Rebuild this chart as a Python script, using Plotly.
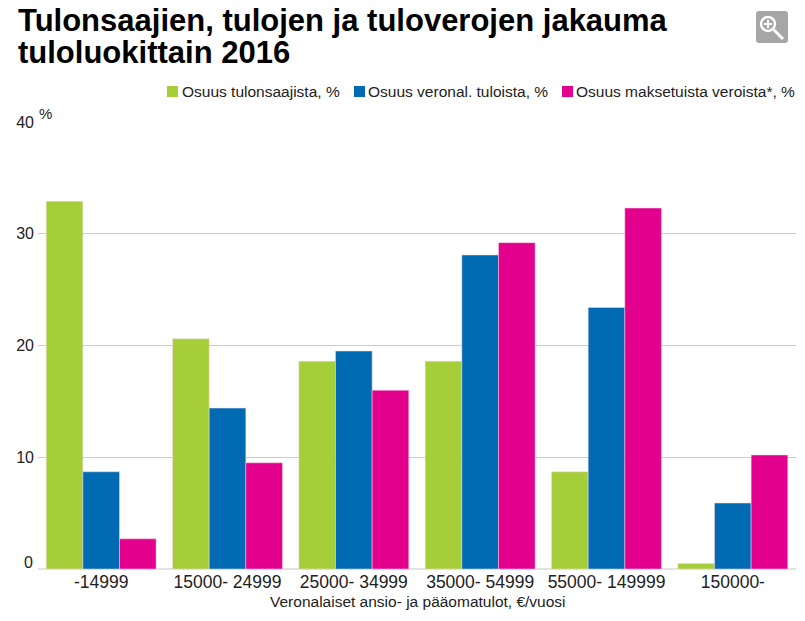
import plotly.graph_objects as go

categories = ["-14999", "15000- 24999", "25000- 34999", "35000- 54999", "55000- 149999", "150000-"]
tulonsaajat = [32.9, 20.6, 18.6, 18.6, 8.7, 0.5]
tulot = [8.7, 14.4, 19.5, 28.1, 23.4, 5.9]
verot = [2.7, 9.5, 16.0, 29.2, 32.3, 10.2]
series_names = ["Osuus tulonsaajista, %", "Osuus veronal. tuloista, %", "Osuus maksetuista veroista*, %"]
colors = ["#A6CE39", "#006AB3", "#E3008C"]
title_lines = ["Tulonsaajien, tulojen ja tuloverojen jakauma", "tuloluokittain 2016"]
x_title = "Veronalaiset ansio- ja pääomatulot, €/vuosi"
y_ticks = [10, 20, 30, 40]

W, H = 805, 621
L, R, T, B = 38, 9, 122, 52
FONT = "Liberation Sans"
TXT = "#222222"


def px(x):
    return (x - L) / (W - L - R)


def py(y):
    return 1 - (y - T) / (H - T - B)


fig = go.Figure()
for name, vals, c in zip(series_names, [tulonsaajat, tulot, verot], colors):
    fig.add_bar(x=categories, y=vals, name=name, marker=dict(color=c, line=dict(width=0.5, color="#f4d6e8")), showlegend=False)

P = dict(xref="paper", yref="paper")
A = dict(xref="paper", yref="paper", showarrow=False, yanchor="middle")
shapes = []
annotations = []
for i, line in enumerate(title_lines):
    annotations.append(dict(text=f"<b>{line}</b>", x=px(16), y=py(20 + i * 32), xanchor="left",
                            font=dict(size=31, color="#000", family=FONT), **A))

leg_sq = [167, 354, 562]
leg_txt = [180, 366, 574]
for sq, tx, name, c in zip(leg_sq, leg_txt, series_names, colors):
    shapes.append(dict(type="rect", x0=px(sq), x1=px(sq + 11), y0=py(97), y1=py(86), fillcolor=c, line_width=0, **P))
    annotations.append(dict(text=name, x=px(tx), y=py(91), xanchor="left", font=dict(size=15.5, color=TXT, family=FONT), **A))

annotations += [
    dict(text="%", x=px(37), y=py(114), xanchor="left", font=dict(size=15, color=TXT, family=FONT), **A),
    dict(text="0", x=px(35), y=py(562), xanchor="right", font=dict(size=16, color=TXT, family=FONT), **A),
    dict(text=x_title, x=px(418), y=py(601), xanchor="center", font=dict(size=15.5, color=TXT, family=FONT), **A),
]

# zoom icon
icon = (f"M{px(759)},{py(11)} L{px(785)},{py(11)} Q{px(788)},{py(11)} {px(788)},{py(14)} L{px(788)},{py(40)} "
        f"Q{px(788)},{py(43)} {px(785)},{py(43)} L{px(759)},{py(43)} Q{px(756)},{py(43)} {px(756)},{py(40)} "
        f"L{px(756)},{py(14)} Q{px(756)},{py(11)} {px(759)},{py(11)} Z")
white = "white"
shapes += [
    dict(type="path", path=icon, fillcolor="#A6A6A6", line_width=0, **P),
    dict(type="circle", x0=px(761), x1=px(775), y0=py(31), y1=py(17), fillcolor="#A6A6A6", line=dict(color=white, width=2.5), **P),
    dict(type="line", x0=px(774), x1=px(783), y0=py(30), y1=py(39), line=dict(color=white, width=3), **P),
    dict(type="line", x0=px(764), x1=px(772), y0=py(24), y1=py(24), line=dict(color=white, width=2), **P),
    dict(type="line", x0=px(768), x1=px(768), y0=py(20), y1=py(28), line=dict(color=white, width=2), **P),
    dict(type="line", x0=px(38), x1=px(796), y0=py(569), y1=py(569), line=dict(color="#E2E2E2", width=2), layer="below", **P),
]

fig.update_layout(
    width=W, height=H, autosize=False,
    margin=dict(l=L, r=R, t=T, b=B, pad=0, autoexpand=False),
    barmode="group", bargap=0.13, bargroupgap=0,
    paper_bgcolor="white", plot_bgcolor="white",
    font=dict(family=FONT, size=14, color=TXT),
    shapes=shapes, annotations=annotations,
    xaxis=dict(type="category", showgrid=False, showline=False, ticks="", automargin=False, tickfont=dict(size=17.5, color=TXT)),
    yaxis=dict(range=[0, 40], tickmode="array", tickvals=y_ticks, ticktext=[str(v) for v in y_ticks], automargin=False,
               showgrid=True, gridcolor="#CCCCCC", gridwidth=1, zeroline=False, showline=False,
               ticks="", ticklabelstandoff=3, tickfont=dict(size=16, color=TXT)),
)
fig.write_html("out.html", config=dict(displayModeBar=False), post_script="document.body.style.margin='0';")
